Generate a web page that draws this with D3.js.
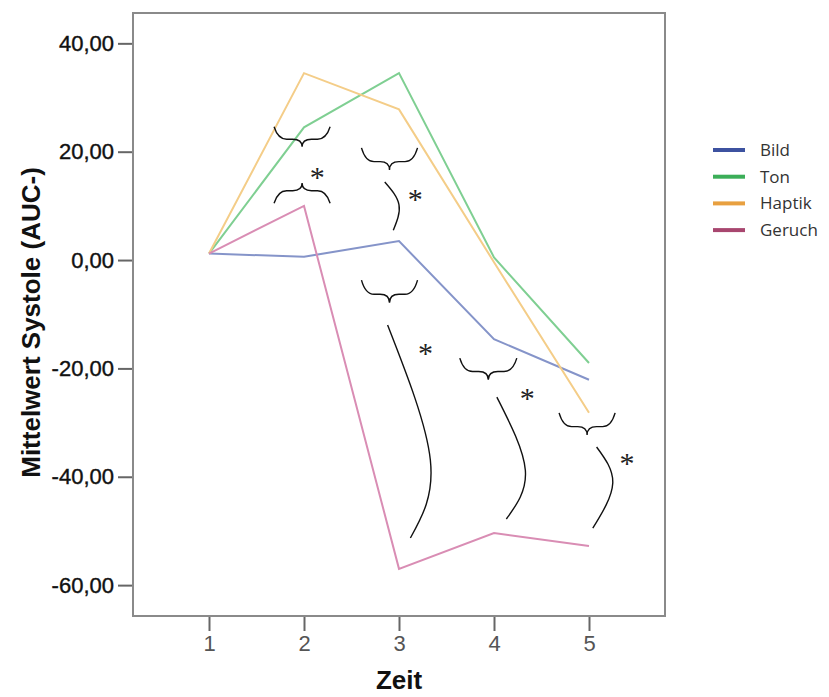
<!DOCTYPE html>
<html>
<head>
<meta charset="utf-8">
<script src="https://cdn.jsdelivr.net/npm/d3@7"></script>
<style>
  body { margin: 0; background: #fff; }
  svg { display: block; }
</style>
</head>
<body>
<div id="chart"></div>
<script>
// Zeitpunkte und Mittelwerte je Gruppe
const zeit = [1, 2, 3, 4, 5];
const bild = [1.2, 0.6, 3.5, -14.6, -22.1];
const ton = [1.2, 24.5, 34.5, 0.5, -19.0];
const haptik = [1.2, 34.5, 27.8, -0.4, -28.2];
const geruch = [1.2, 10.0, -57.0, -50.4, -52.8];
const seriesNames = ['Bild', 'Ton', 'Haptik', 'Geruch'];
const yTicks = [40, 20, 0, -20, -40, -60];

// Klammern {x-Mitte, halbe Breite, Enden, Spitze} in Datenkoordinaten
const braceCx = [1.98, 1.98, 2.9, 2.9, 3.94, 4.98];
const braceHalf = [0.295, 0.295, 0.295, 0.295, 0.3, 0.295];
const braceEnd = [24.6, 10.5, 20.7, -3.7, -18.1, -28.2];
const braceTip = [20.9, 14.2, 16.6, -7.9, -22.1, -32.3];

// Boegen: Start, Ausbuchtung, Ende
const arcs = [
    [[2.85, 14.4], [3.0, 10.2], [2.94, 5.5]],
    [[2.88, -12.0], [3.33, -36.9], [3.12, -51.3]],
    [[4.03, -25.3], [4.33, -38.8], [4.13, -47.8]],
    [[5.08, -34.5], [5.25, -41.2], [5.04, -49.5]]
];
const starX = [2.14, 3.17, 3.28, 4.35, 5.4];
const starY = [16.6, 12.4, -16.0, -24.2, -36.3];

const plotColors = ['#8594c9', '#7fcf92', '#f4cd88', '#d98db4'];
const legendColors = ['#3d52a0', '#3bae58', '#e8a040', '#a8466f'];

let width = 829, height = 697;
let box = {left: 133, top: 13, right: 665, bottom: 616};

let svg = d3.select('#chart').append('svg')
    .attr('width', width)
    .attr('height', height);

let x = d3.scaleLinear()
    .domain([0.2, 5.8])
    .range([box.left, box.right]);
let y = d3.scaleLinear()
    .domain([-65.7, 45.6])
    .range([box.bottom, box.top]);

// y axis
let yAxis = d3.axisLeft(y)
    .tickValues(yTicks)
    .tickSize(15)
    .tickPadding(4)
    .tickFormat(d => d.toFixed(2).replace('.', ','));
let gy = svg.append('g')
    .attr('transform', `translate(${box.left},0)`)
    .call(yAxis);
gy.select('.domain').remove();
gy.selectAll('line').attr('stroke', '#666').attr('stroke-width', 2);
gy.selectAll('text')
    .style('font-family', '"Liberation Sans", Arial, sans-serif')
    .style('font-size', '22px')
    .attr('fill', '#111')
    .attr('stroke', '#111')
    .attr('stroke-width', 0.4);

// x axis
let xAxis = d3.axisBottom(x)
    .tickValues(zeit)
    .tickSize(15)
    .tickPadding(4)
    .tickFormat(d3.format('d'));
let gx = svg.append('g')
    .attr('transform', `translate(0,${box.bottom})`)
    .call(xAxis);
gx.select('.domain').remove();
gx.selectAll('line').attr('stroke', '#666').attr('stroke-width', 2);
gx.selectAll('text')
    .style('font-family', '"Liberation Sans", Arial, sans-serif')
    .style('font-size', '22px')
    .attr('fill', '#555');

// frame
svg.append('rect')
    .attr('x', box.left)
    .attr('y', box.top)
    .attr('width', box.right - box.left)
    .attr('height', box.bottom - box.top)
    .attr('fill', 'none')
    .attr('stroke', '#8a8a8a')
    .attr('stroke-width', 2);

// axis titles
svg.append('text')
    .attr('transform', `translate(40,${(box.top + box.bottom) / 2 + 8}) rotate(-90)`)
    .attr('text-anchor', 'middle')
    .style('font-family', '"Liberation Sans", Arial, sans-serif')
    .style('font-size', '26px')
    .style('font-weight', 'bold')
    .attr('fill', '#111')
    .text('Mittelwert Systole (AUC-)');

svg.append('text')
    .attr('x', x(3))
    .attr('y', 689)
    .attr('text-anchor', 'middle')
    .style('font-family', '"Liberation Sans", Arial, sans-serif')
    .style('font-size', '26px')
    .style('font-weight', 'bold')
    .attr('fill', '#111')
    .text('Zeit');

// lines
let allSeries = [bild, ton, haptik, geruch];
let line = d3.line()
    .x((d, i) => x(zeit[i]))
    .y(d => y(d));

svg.append('g').selectAll('path')
    .data(allSeries)
    .join('path')
        .attr('d', d => line(d))
        .attr('fill', 'none')
        .attr('stroke', (d, i) => plotColors[i])
        .attr('stroke-width', 2);

// braces
let bracePath = (cx, half, yEnd, yTip) => {
    let x0 = x(cx - half), x1 = x(cx + half), xc = x(cx);
    let ye = y(yEnd), yt = y(yTip);
    let ym = ye + (yt - ye) * 0.62;
    let q = (x1 - x0) * 0.14;
    return `M${x0},${ye} Q${x0 + q * 0.5},${ym} ${x0 + q * 1.6},${ym}` +
        ` L${xc - q * 1.2},${ym} Q${xc},${ym} ${xc},${yt}` +
        ` Q${xc},${ym} ${xc + q * 1.2},${ym}` +
        ` L${x1 - q * 1.6},${ym} Q${x1 - q * 0.5},${ym} ${x1},${ye}`;
};

svg.append('g').selectAll('path')
    .data(braceCx)
    .join('path')
        .attr('d', (d, i) => bracePath(d, braceHalf[i], braceEnd[i], braceTip[i]))
        .attr('fill', 'none')
        .attr('stroke', '#111')
        .attr('stroke-width', 1.4);

// arcs
let arcLine = d3.line()
    .x(d => x(d[0]))
    .y(d => y(d[1]))
    .curve(d3.curveNatural);

svg.append('g').selectAll('path')
    .data(arcs)
    .join('path')
        .attr('d', d => arcLine(d))
        .attr('fill', 'none')
        .attr('stroke', '#111')
        .attr('stroke-width', 1.4);

// asterisks
svg.append('g').selectAll('text')
    .data(starX)
    .join('text')
        .attr('x', d => x(d))
        .attr('y', (d, i) => y(starY[i]))
        .attr('dy', '0.55em')
        .attr('text-anchor', 'middle')
        .style('font-family', '"Liberation Serif", "Times New Roman", serif')
        .style('font-size', '30px')
        .attr('fill', '#222')
        .text('*');

// legend
let legend = svg.append('g')
    .attr('transform', 'translate(713,150)');
let items = legend.selectAll('g')
    .data(seriesNames)
    .join('g')
        .attr('transform', (d, i) => `translate(0,${i * 26.7})`);
items.append('line')
    .attr('x1', 0)
    .attr('x2', 32)
    .attr('stroke', (d, i) => legendColors[i])
    .attr('stroke-width', 4);
items.append('text')
    .attr('x', 47)
    .attr('dy', '0.35em')
    .style('font-family', '"Open Sans", "Liberation Sans", sans-serif')
    .style('font-size', '17px')
    .attr('fill', '#333')
    .text(d => d);
</script>
</body>
</html>
